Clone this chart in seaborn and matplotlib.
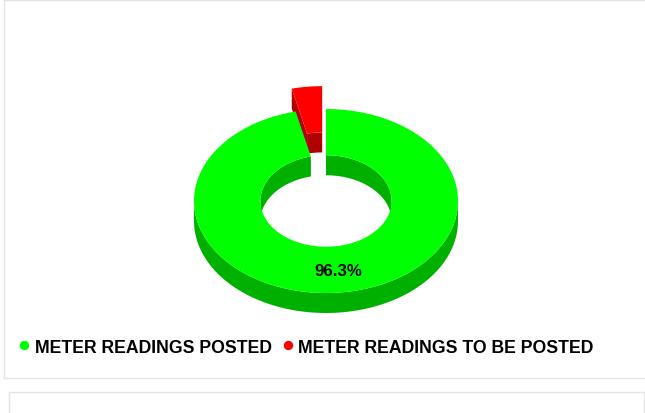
# -*- coding: utf-8 -*-
"""Meter readings donut, drawn with a fake 3D extrusion."""
import numpy as np
import pandas as pd
import matplotlib
matplotlib.use('Agg')
import matplotlib.pyplot as plt
import seaborn as sns

labels = ['METER READINGS POSTED', 'METER READINGS TO BE POSTED']
values = [96.3, 3.7]
top_colors = ['#00ff00', '#ff0000']
wall_colors = ['#00b000', '#b00000']

# donut geometry in pixels
CX, CY = 326, 202
RX, RY = 132, 92
INNER = 0.497
DEPTH = 20
EXPLODE = 23


def point(angle, scale=1.0, dx=0.0, dy=0.0):
    """Clockwise angle from 12 o'clock (radians) to screen x, y."""
    return (CX + dx + RX * scale * np.sin(angle),
            CY + dy - RY * scale * np.cos(angle))


def arc(a0, a1, scale=1.0, dx=0.0, dy=0.0):
    t = np.linspace(a0, a1, max(int(abs(a1 - a0) * 60), 2))
    x, y = point(t, scale, dx, dy)
    return np.column_stack([x, y])


def wall(ax, a0, a1, scale, dx, dy, color, zorder):
    """Strip between an arc and the same arc pushed down by DEPTH."""
    if a1 <= a0:
        return
    upper = arc(a0, a1, scale, dx, dy)
    lower = arc(a0, a1, scale, dx, dy + DEPTH)
    ax.fill(*np.vstack([upper, lower[::-1]]).T, color=color, lw=0, zorder=zorder)


def draw_slice(ax, a0, a1, top, side, dx, dy, zorder):
    # inner wall shows on the far half, outer wall on the near half
    for lo, hi in [(a0, min(a1, np.pi / 2)), (max(a0, 1.5 * np.pi), a1)]:
        wall(ax, lo, hi, INNER, dx, dy, side, zorder)
    wall(ax, max(a0, np.pi / 2), min(a1, 1.5 * np.pi), 1.0, dx, dy, side, zorder)
    # cut face on the leading edge
    if a0 > 1.5 * np.pi:
        o = point(a0, 1.0, dx, dy)
        i = point(a0, INNER, dx, dy)
        quad = np.array([o, i, (i[0], i[1] + DEPTH), (o[0], o[1] + DEPTH)])
        ax.fill(*quad.T, color=side, lw=0, zorder=zorder)
    outer = arc(a0, a1, 1.0, dx, dy)
    inner = arc(a0, a1, INNER, dx, dy)
    ax.fill(*np.vstack([outer, inner[::-1]]).T, color=top, lw=0, zorder=zorder + 1)


sns.set_theme(style='white')
plt.rcParams['font.family'] = ['Liberation Sans', 'DejaVu Sans']

fig = plt.figure(figsize=(6.45, 4.14), dpi=100)
ax = fig.add_axes([0, 0, 1, 1])
ax.set_xlim(0, 645)
ax.set_ylim(414, 0)
ax.axis('off')

# card outlines behind the chart
card = '#e4e4e4'
ax.plot([4, 4], [0, 378.5], color=card, lw=1)
ax.plot([4, 645], [0.5, 0.5], color=card, lw=1)
ax.plot([4, 645], [378.5, 378.5], color=card, lw=1)
ax.plot([9, 645], [393, 393], color=card, lw=1)
ax.plot([9, 9], [393, 414], color=card, lw=1)
ax.plot([644, 644], [393, 414], color=card, lw=1)

fracs = np.array(values) / sum(values)
ends = np.cumsum(fracs) * 2 * np.pi
starts = ends - fracs * 2 * np.pi

# red slice first, the green top face overlaps its cut face
mid = (starts[1] + ends[1]) / 2
off_x = EXPLODE * np.sin(mid) * RX / RY
off_y = -EXPLODE * np.cos(mid)
draw_slice(ax, starts[1], ends[1], top_colors[1], wall_colors[1], off_x, off_y, 2)
draw_slice(ax, starts[0], ends[0], top_colors[0], wall_colors[0], 0, 0, 4)

# percentage sits mid-ring on the green slice
lx, ly = point((starts[0] + ends[0]) / 2, (1 + INNER) / 2)
ax.text(lx + 1, ly + 1.5, f'{values[0]:.1f}%', ha='center', va='center',
        fontsize=12.2, fontweight='bold', color='black', zorder=8)

legend_df = pd.DataFrame({'label': labels, 'x': [24.5, 288.5], 'y': [346.5, 346.5]})
sns.scatterplot(data=legend_df, x='x', y='y', hue='label', palette=top_colors,
                s=46, linewidth=0, legend=False, ax=ax, zorder=8)
ax.set_xlim(0, 645)
ax.set_ylim(414, 0)
ax.axis('off')
for text_x, label in zip([35, 298], labels):
    ax.text(text_x, 348.5, label, ha='left', va='center', fontsize=12.7,
            fontweight='bold', color='black', zorder=8)

fig.savefig('out.png', dpi=100)
plt.close(fig)
